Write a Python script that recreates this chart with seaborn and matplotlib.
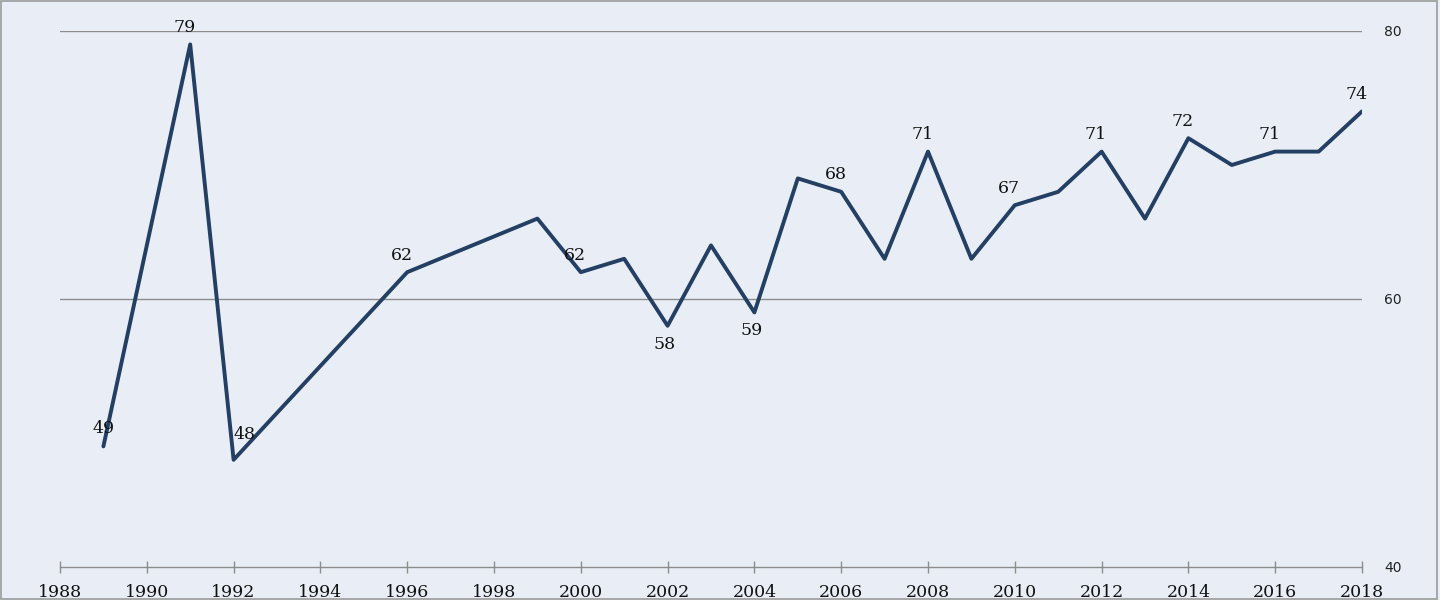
import matplotlib
matplotlib.use("Agg")
import matplotlib.pyplot as plt
import seaborn as sns
import pandas as pd

years = [1989, 1991, 1992, 1996, 1999, 2000, 2001, 2002, 2003, 2004, 2005, 2006,
         2007, 2008, 2009, 2010, 2011, 2012, 2013, 2014, 2015, 2016, 2017, 2018]
values = [49, 79, 48, 62, 66, 62, 63, 58, 64, 59, 69, 68,
          63, 71, 63, 67, 68, 71, 66, 72, 70, 71, 71, 74]
labeled_years = [1989, 1991, 1992, 1996, 2000, 2002, 2004, 2006, 2008, 2010, 2012, 2014, 2016, 2018]
below_years = [2002, 2004]
x_ticks = list(range(1988, 2019, 2))
y_ticks = [40, 60, 80]

sns.set_theme(style="white")
plt.rcParams['font.family'] = ['DejaVu Sans']

bg = "#E9EEF6"
line_color = "#233F63"
serif = "DejaVu Serif"

df = pd.DataFrame({"year": years, "value": values})

fig = plt.figure(figsize=(14.4, 6), dpi=100, facecolor=bg)
ax = fig.add_axes([60/1440, 33/600, 1302/1440, 536/600])
ax.set_facecolor(bg)

for y in [60, 80]:
    ax.axhline(y, color="#8C8C8C", lw=1.0, zorder=1)

sns.lineplot(data=df, x="year", y="value", ax=ax, color=line_color, lw=2.8,
             zorder=3, legend=False)

for yr, v in zip(years, values):
    if yr in labeled_years:
        if yr in below_years:
            off = (-2, -7)
            va = "top"
        else:
            off = (-4, 6)
            va = "bottom"
        if yr == 1992:
            off = (8, 12)
        if yr == 1989:
            off = (0, 7)
        ax.annotate(str(v), (yr, v), xytext=off, textcoords="offset points",
                    ha="center", va=va, fontsize=12.5, family=serif,
                    color="#111111", zorder=4)

ax.set_xlim(1988, 2018)
ax.set_ylim(40, 80)
ax.set_xticks(x_ticks)
ax.set_xticklabels([str(t) for t in x_ticks], family=serif, fontsize=12.5)
ax.yaxis.tick_right()
ax.set_yticks(y_ticks)
ax.set_yticklabels([str(t) for t in y_ticks], fontsize=10)
ax.tick_params(axis="x", bottom=True, direction="inout", length=9, width=1,
               color="#8C8C8C", pad=8, labelcolor="#111111")
ax.tick_params(axis="y", right=True, length=0, pad=16, labelcolor="#222222")
for s in ["top", "left", "right"]:
    ax.spines[s].set_visible(False)
ax.spines["bottom"].set_color("#8C8C8C")
ax.spines["bottom"].set_linewidth(1.0)
ax.set_xlabel("")
ax.set_ylabel("")
ax.grid(False)

border = plt.Rectangle((0.001, 0.001), 0.997, 0.997, transform=fig.transFigure,
                       fill=False, edgecolor="#9A9A9A", lw=1.2)
fig.patches.append(border)

fig.savefig("out.png", dpi=100, facecolor=bg)
